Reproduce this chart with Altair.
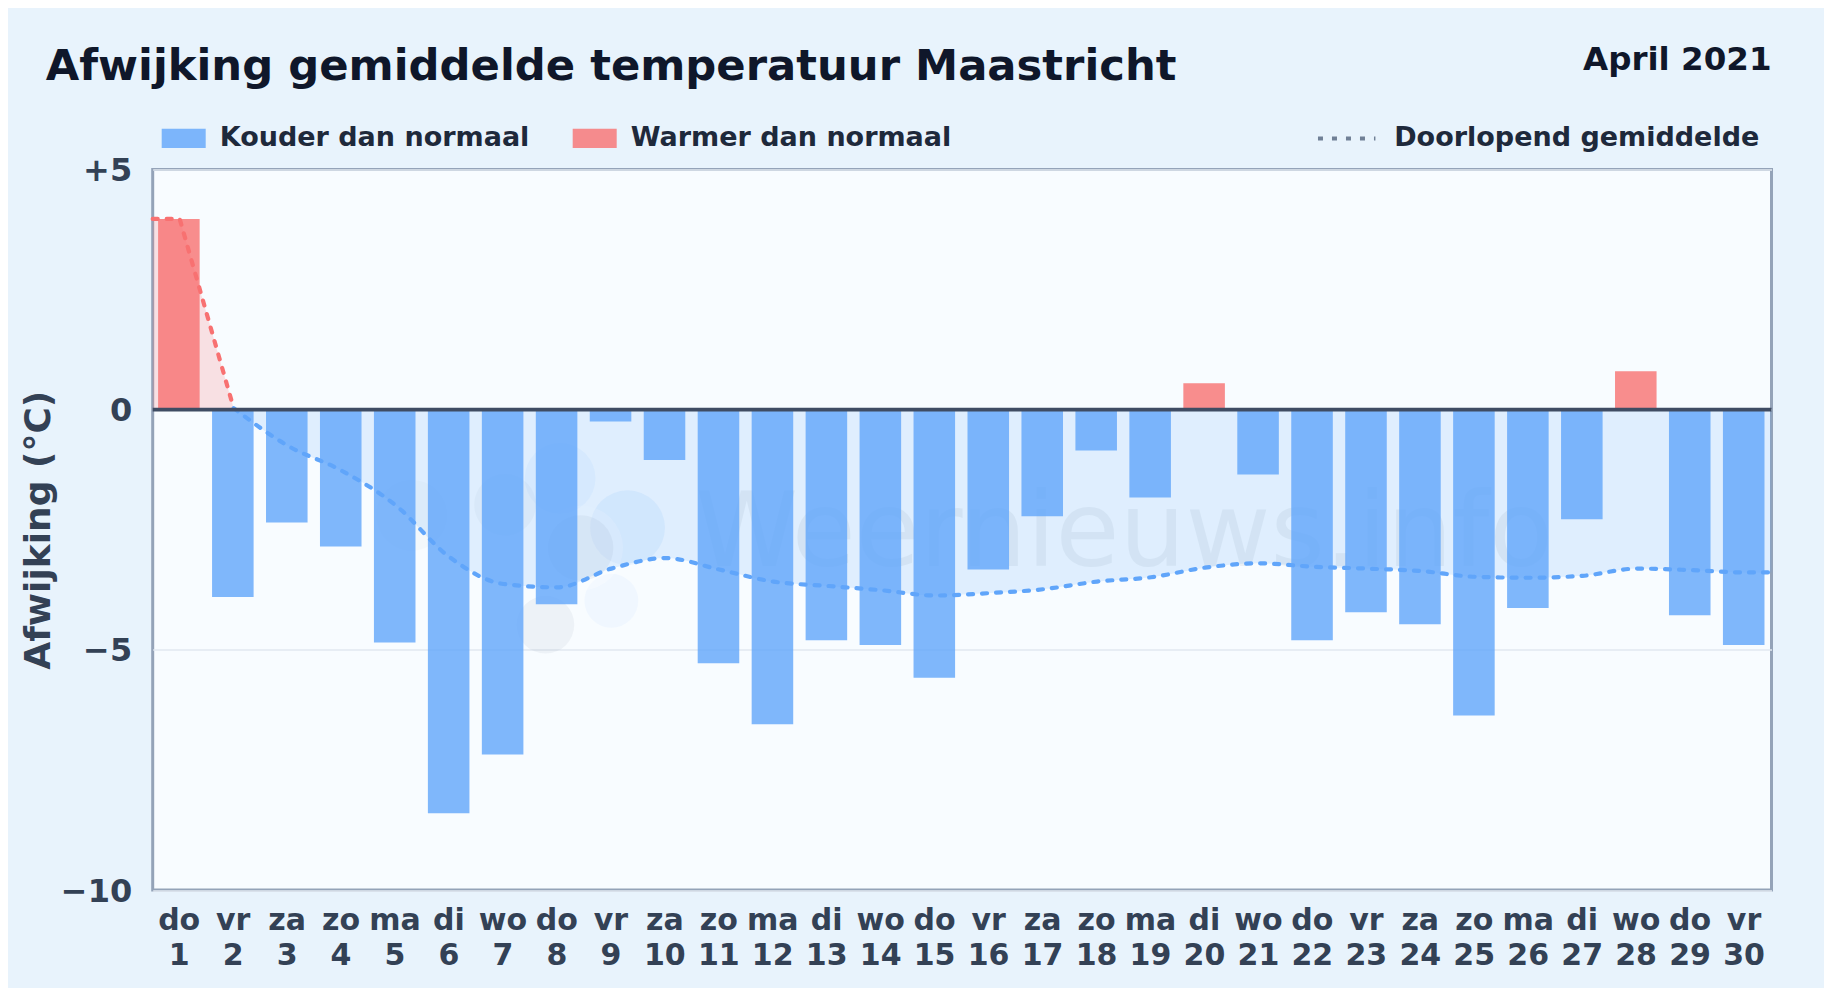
import altair as alt
import pandas as pd

days = list(range(1, 31))
weekdays = ["do","vr","za","zo","ma","di","wo","do","vr","za","zo","ma","di","wo","do",
            "vr","za","zo","ma","di","wo","do","vr","za","zo","ma","di","wo","do","vr"]
anomaly = [3.97,-3.9,-2.35,-2.85,-4.85,-8.4,-7.18,-4.05,-0.25,-1.05,-5.28,-6.55,-4.8,-4.9,-5.58,
           -3.33,-2.22,-0.85,-1.83,0.55,-1.35,-4.8,-4.22,-4.47,-6.37,-4.13,-2.28,0.8,-4.28,-4.9]
rolling = [3.97,0.03,-0.75,-1.27,-1.99,-3.07,-3.63,-3.7,-3.31,-3.09,-3.33,-3.58,-3.67,-3.76,-3.87,
           -3.82,-3.74,-3.58,-3.49,-3.29,-3.2,-3.27,-3.31,-3.36,-3.48,-3.5,-3.46,-3.31,-3.34,-3.39]

COLD, WARM = "Kouder dan normaal", "Warmer dan normaal"
AVG = "Doorlopend gemiddelde"
BLUE, RED = "#60a5fa", "#f87171"
TITLE = "Afwijking gemiddelde temperatuur Maastricht"
PERIOD = "April 2021"
WATERMARK = "Weernieuws.info"
FONT = "DejaVu Sans"

W, H = 1618.8, 720.6
xs = alt.Scale(domain=[0.5, 30.5], nice=False, zero=False)
ys = alt.Scale(domain=[-10, 5], nice=False)

bars_df = pd.DataFrame({"day": days, "value": anomaly,
                        "kind": [WARM if v > 0 else COLD for v in anomaly]})
line_df = pd.DataFrame({"day": [0.5] + days + [30.5],
                        "value": [rolling[0]] + rolling + [rolling[-1]]})
line_df["label"] = AVG
warm_line = line_df[line_df.day <= 2]
cold_line = line_df[line_df.day >= 2]

labels = [f"{w}|{d}" for w, d in zip(weekdays, days)]
label_expr = "split([" + ",".join(f"'{s}'" for s in labels) + "][datum.value-1],'|')"

x_axis = alt.Axis(values=days, labelExpr=label_expr, title=None, grid=False, ticks=False, domain=False,
                  labelOverlap=False, labelBound=False, labelFlush=False, labelFont=FONT, labelFontSize=30,
                  labelFontWeight="bold", labelColor="#334155", labelPadding=15, labelLineHeight=35,
                  labelAngle=0, labelBaseline="top", labelOffset=-1)
y_axis = alt.Axis(values=[5, 0, -5, -10], title="Afwijking (°C)", ticks=False, domain=False, grid=True,
                  gridColor="#e2e8f0", gridWidth=1.5,
                  labelExpr="datum.value>0?'+'+datum.value:datum.value<0?'−'+abs(datum.value):'0'",
                  labelFont=FONT, labelFontSize=32, labelFontWeight="bold", labelColor="#334155",
                  labelPadding=21, labelOffset=1, titleFont=FONT, titleFontSize=36, titleFontWeight="bold",
                  titleColor="#334155", titlePadding=3, labelOverlap=False, labelBound=False)

# faint logo behind the data: lobes around a sun disc
logo_df = pd.DataFrame({
    "x": [7.03, 8.05, 9.3, 9.0, 7.78, 5.3, 8.43, 8.43],
    "y": [-1.98, -1.43, -2.46, -3.98, -4.48, -2.2, -2.88, -2.88],
    "s": [3800, 5000, 5600, 2900, 3300, 5000, 7200, 4300],
    "c": ["#64748b", "#60a5fa", "#60a5fa", "#60a5fa", "#64748b", "#64748b", "#ffffff", "#64748b"],
    "o": [0.05, 0.07, 0.10, 0.05, 0.07, 0.03, 0.3, 0.08],
})
logo = alt.Chart(logo_df).mark_circle(strokeWidth=0).encode(
    x=alt.X("x:Q", scale=xs, axis=x_axis),
    y=alt.Y("y:Q", scale=ys, axis=y_axis),
    size=alt.Size("s:Q", scale=None, legend=None),
    fill=alt.Fill("c:N", scale=None, legend=None),
    opacity=alt.Opacity("o:Q", scale=None, legend=None),
)
wm = alt.Chart(pd.DataFrame({"x": [18.5], "y": [-3.25], "t": [WATERMARK]})).mark_text(
    font=FONT, fontSize=104, align="center", baseline="alphabetic", color="#64748b", opacity=0.09
).encode(x=alt.X("x:Q", scale=xs), y=alt.Y("y:Q", scale=ys), text="t:N")

def area(df, col, op, curve):
    return alt.Chart(df).mark_area(color=col, opacity=op, interpolate=curve).encode(
        x=alt.X("day:Q", scale=xs), y=alt.Y("value:Q", scale=ys), y2=alt.datum(0))

def line(df, col, curve):
    return alt.Chart(df).mark_line(color=col, strokeWidth=4.2, strokeCap="round", interpolate=curve).encode(
        x=alt.X("day:Q", scale=xs), y=alt.Y("value:Q", scale=ys),
        strokeDash=alt.StrokeDash("label:N", scale=alt.Scale(domain=[AVG], range=[[5, 9]]),
            legend=alt.Legend(orient="none", legendX=1163, legendY=-62, title=None, symbolType="stroke",
                symbolSize=3300, symbolStrokeWidth=4, symbolStrokeColor="#64748b", symbolDashOffset=0,
                symbolDash=[5, 12], labelFont=FONT, labelFontSize=27, labelFontWeight="bold",
                labelColor="#1e293b", labelOffset=16.5, labelLimit=500, symbolOpacity=0.9)))

bars = alt.Chart(bars_df).transform_calculate(a="datum.day-0.4", b="datum.day+0.37").mark_bar(
    opacity=0.8, stroke=None).encode(
    x=alt.X("a:Q", scale=xs), x2="b:Q",
    y=alt.Y("value:Q", scale=ys), y2=alt.datum(0),
    color=alt.Color("kind:N", scale=alt.Scale(domain=[COLD, WARM], range=[BLUE, RED]),
        legend=alt.Legend(orient="none", legendX=9, legendY=-53, direction="horizontal", title=None,
            symbolType="M-1,-0.44H1V0.44H-1Z", symbolSize=1936, symbolStrokeWidth=0, columnPadding=43,
            labelFont=FONT, labelFontSize=27, labelFontWeight="bold", labelColor="#1e293b", labelOffset=14,
            labelLimit=500)))

zero = alt.Chart(pd.DataFrame({"y": [0]})).mark_rule(color="#3f4c63", strokeWidth=3.6).encode(
    y=alt.Y("y:Q", scale=ys))

period = alt.Chart(pd.DataFrame({"t": [PERIOD]})).mark_text(
    font=FONT, fontSize=32.5, fontWeight="bold", color="#0f172a", align="right", baseline="alphabetic"
).encode(text="t:N", x=alt.value(W), y=alt.value(-99))

chart = alt.layer(logo, wm, area(warm_line, RED, 0.2, "linear"), area(cold_line, BLUE, 0.16, "monotone"), bars,
                  line(warm_line, RED, "linear"), line(cold_line, BLUE, "monotone"), zero, period).properties(
    width=W, height=H,
    title=alt.TitleParams(TITLE, anchor="start", frame="group", font=FONT, fontSize=43.3, fontWeight="bold",
                          color="#0f172a", dx=-107, offset=-79, baseline="alphabetic"),
    autosize=alt.AutoSizeParams(type="none"),
    padding={"left": 144.7, "top": 161.4, "right": 52.5, "bottom": 98},
    background="#e8f3fc",
).configure_view(fill="#f8fcff", stroke="#94a3b8", strokeWidth=3)

chart.save("out.html", embed_options={"renderer": "svg", "actions": False})
